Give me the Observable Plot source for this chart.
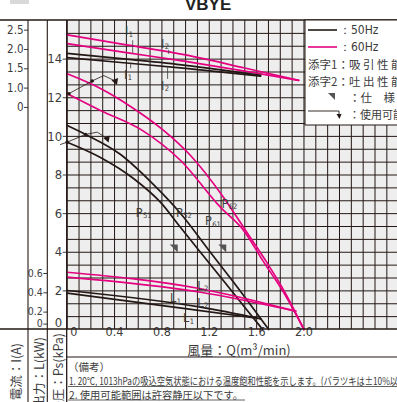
<!DOCTYPE html>
<html><head><meta charset="utf-8">
<script src="https://cdn.jsdelivr.net/npm/d3@7"></script>
<script src="https://cdn.jsdelivr.net/npm/@observablehq/plot@0.6"></script>
<style>
body{margin:0;background:#fff;}
#chart{position:relative;width:397px;height:402px;overflow:hidden;}
#tab{position:absolute;left:10px;top:0;width:19px;height:4px;background:#d9d9d9;}
</style></head><body><div id="chart"><div id="tab"></div></div>
<script>
const NARROW = "'Liberation Sans Narrow','Arial Narrow','DejaVu Sans Condensed',sans-serif";
const JP = "'Noto Sans CJK JP','Noto Sans',sans-serif";
const PINK = "#e4007f", BLACK = "#231815", INK = "#3c3c3c";

// ---- tick labels ----
const flowTicks = [0, 0.4, 0.8, 1.2, 1.6, 2.0];
const pressureTicks = [2, 4, 6, 8, 10, 12, 14];
const currentTicks = [1.0, 1.5, 2.0, 2.5];
const outputTicks = [0.2, 0.4, 0.6];

// ---- current I (A) ----
const i60aQ = [0, 0.5, 1.0, 1.5, 1.955];
const i60a  = [2.38, 2.12, 1.86, 1.52, 1.20];
const i60bQ = [0, 0.5, 1.0, 1.5, 1.955];
const i60b  = [2.15, 1.92, 1.69, 1.44, 1.20];
const i50aQ = [0, 0.5, 1.0, 1.634];
const i50a  = [1.90, 1.75, 1.59, 1.33];
const i50bQ = [0, 0.5, 1.0, 1.634];
const i50b  = [1.79, 1.65, 1.51, 1.31];

// ---- static pressure Ps (kPa) ----
const p62Q = [0, 0.281, 0.535, 0.814, 1.042, 1.321, 1.524, 1.676, 1.845, 2.0];
const p62  = [13.24, 12.48, 11.55, 10.31, 9.01, 6.84, 4.97, 3.57, 1.86, 0];
const p61Q = [0, 0.281, 0.634, 0.958, 1.296, 1.490, 1.659, 1.845, 2.0];
const p61  = [12.21, 11.34, 10.31, 8.75, 6.32, 5.13, 3.50, 1.75, 0];
const p52Q = [0, 0.155, 0.451, 0.704, 0.958, 1.211, 1.465, 1.702];
const p52  = [10.56, 10.10, 9.06, 7.66, 6.01, 3.99, 1.97, 0];
const p51Q = [0, 0.281, 0.56, 0.789, 0.958, 1.127, 1.339, 1.508, 1.651];
const p51  = [9.70, 8.91, 7.82, 6.58, 5.28, 3.99, 2.38, 1.09, 0];

// ---- output L (kW) ----
const l62Q = [0, 1.127, 1.93];
const l62  = [0.613, 0.442, 0.21];
const l61Q = [0, 1.127, 1.93];
const l61  = [0.562, 0.406, 0.21];
const l52Q = [0, 1.127, 1.634];
const l52  = [0.424, 0.251, 0.131];
const l51Q = [0, 1.014, 1.634];
const l51  = [0.396, 0.234, 0.131];

// spec points (Q, Ps)
const specQ = [0.90, 1.31];
const specP = [4.2, 4.2];

// usable range indicators (Q, Ps)
const range60Q = [0.014, 0.211, 0.309, 0.408];
const range60P = [12.21, 12.87, 13.15, 12.86];
const range50Q = [-0.057, 0, 0.155, 0.254, 0.338];
const range50P = [9.58, 9.70, 10.10, 10.22, 9.88];

// curve labels
const labelText = ["I","I","I","I","P","P","P","P","L","L","L","L"];
const labelSub  = ["1","2","1","2","51","52","61","62","2","1","2","1"];
const labelQ    = [0.527, 0.831, 0.518, 0.831, 0.65, 0.99, 1.235, 1.375, 1.15, 0.92, 1.15, 1.03];
const labelP    = [15.48, 14.81, 13.21, 12.64, 6.06, 6.06, 5.64, 6.53, 2.3, 1.65, 1.4, 0.6];
// leader lines for the current labels: [Q, Ps from, Ps to]
const leaderQ   = [0.553, 0.857, 0.536, 0.848];
const leaderP1  = [14.95, 14.45, 13.8, 13.55];
const leaderP2  = [14.3, 14.25, 13.5, 12.95];

// scale mappings of the secondary axes onto the pressure axis
const psFromI = I => 10.5 + 2 * I;
const psFromL = L => 5 * L - 0.1;

function rows(id, color, Q, V, f) {
  return Q.map((q, i) => ({id, color, Q: q, ps: f(V[i])}));
}
const ident = v => v;
const curves = [
  ...rows("i60a", PINK, i60aQ, i60a, psFromI),
  ...rows("i60b", PINK, i60bQ, i60b, psFromI),
  ...rows("i50a", BLACK, i50aQ, i50a, psFromI),
  ...rows("i50b", BLACK, i50bQ, i50b, psFromI),
  ...rows("p62", PINK, p62Q, p62, ident),
  ...rows("p61", PINK, p61Q, p61, ident),
  ...rows("p52", BLACK, p52Q, p52, ident),
  ...rows("p51", BLACK, p51Q, p51, ident),
  ...rows("l62", PINK, l62Q, l62, psFromL),
  ...rows("l61", PINK, l61Q, l61, psFromL),
  ...rows("l52", BLACK, l52Q, l52, psFromL),
  ...rows("l51", BLACK, l51Q, l51, psFromL)
];
const r60 = range60Q.map((q, i) => ({id: "r60", Q: q, ps: range60P[i]}));
const r50 = range50Q.map((q, i) => ({id: "r50", Q: q, ps: range50P[i]}));
const ranges = [...r60, ...r50];
const rangeDots = [r60[0], r60[1], r50[1], r50[2]];
const rangeEnds = [r60[r60.length - 1], r50[r50.length - 1]];
const specs = specQ.map((q, i) => ({Q: q, ps: specP[i]}));
const leaders = leaderQ.map((q, i) => ({Q: q, p1: leaderP1[i], p2: leaderP2[i]}));

const specSymbol = {draw(ctx, size) { const r = Math.sqrt(size) / 2; ctx.moveTo(-r, -r); ctx.lineTo(r, -r); ctx.lineTo(r, r); ctx.closePath(); }};

const xGrid = d3.range(0, 28).map(k => k / 10);
const yGrid = d3.range(1, 24).map(k => k * 2 / 3);

const plot = Plot.plot({
  width: 397, height: 402,
  marginLeft: 66.7, marginRight: 0, marginTop: 20, marginBottom: 73,
  x: {domain: [0, 2.79], axis: null},
  y: {domain: [0, 16], axis: null},
  style: {fontFamily: NARROW, background: "transparent", color: INK},
  marks: [
    Plot.frame({fill: "#eeeeee", stroke: null}),
    Plot.gridX(xGrid, {stroke: BLACK, strokeOpacity: 1, strokeWidth: 1}),
    Plot.gridY(yGrid, {stroke: BLACK, strokeOpacity: 1, strokeWidth: 1}),
    Plot.line(curves, {x: "Q", y: "ps", z: "id", stroke: "color", strokeWidth: 1.7, curve: "monotone-x"}),
    Plot.line(ranges, {x: "Q", y: "ps", z: "id", stroke: BLACK, strokeWidth: 0.8}),
    Plot.dot(rangeDots, {x: "Q", y: "ps", r: 1.8, fill: BLACK}),
    Plot.dot(rangeEnds, {x: "Q", y: "ps", symbol: "triangle", r: 2.6, fill: BLACK, rotate: 160}),
    Plot.dot(specs, {x: "Q", y: "ps", symbol: specSymbol, r: 4.5, fill: "#555"}),
    Plot.ruleX(leaders, {x: "Q", y1: "p1", y2: "p2", stroke: INK, strokeWidth: 0.8}),
    // pressure axis
    Plot.axisY(pressureTicks, {anchor: "left", tickSize: 4, tickPadding: 1, fontSize: 13, label: null, color: INK}),
    Plot.axisY([0.33], {anchor: "left", tickSize: 0, tickPadding: 5, fontSize: 13, label: null, tickFormat: () => "0", color: INK}),
    // current axis
    Plot.axisY(currentTicks.map(psFromI), {anchor: "left", dx: -38.7, tickSize: 4, tickPadding: 1, fontSize: 11.5, label: null, color: INK,
      tickFormat: d => ((d - 10.5) / 2).toFixed(1)}),
    Plot.axisY([psFromI(0.5)], {anchor: "left", dx: -38.7, tickSize: 4, tickPadding: 1, fontSize: 11.5, label: null, color: INK, tickFormat: () => "0"}),
    // output axis
    Plot.axisY(outputTicks.map(psFromL), {anchor: "left", dx: -19.4, tickSize: 4, tickPadding: 1, fontSize: 10.5, label: null, color: INK,
      tickFormat: d => ((d + 0.1) / 5).toFixed(1)}),
    Plot.axisY([0.28], {anchor: "left", dx: -19.4, tickSize: 4, tickPadding: 1, fontSize: 10.5, label: null, color: INK, tickFormat: () => "0"}),
    // flow axis
    Plot.text(flowTicks.filter(d => d > 0), {x: d => d, frameAnchor: "bottom", dy: 6.5, text: d => d.toFixed(1), fontSize: 12.5, fill: INK}),
    Plot.text([0], {x: d => d, frameAnchor: "bottom", dy: 6.5, text: () => "0", fontSize: 12.5, fill: INK, textAnchor: "start", dx: 3})
  ]
});
document.getElementById("chart").appendChild(plot);

// ---- decorations ----
const sx = plot.scale("x"), sy = plot.scale("y");
const svg = d3.select(plot);
const g = svg.append("g");
function ln(x1, y1, x2, y2, w = 1, c = BLACK) {
  g.append("line").attr("x1", x1).attr("y1", y1).attr("x2", x2).attr("y2", y2).attr("stroke", c).attr("stroke-width", w);
}
function tx(x, y, s, opts = {}) {
  const t = g.append("text").attr("x", x).attr("y", y).text(s)
    .attr("font-family", opts.font || JP).attr("font-size", opts.size || 12)
    .attr("fill", opts.fill || INK).attr("text-anchor", opts.anchor || "start")
    .attr("dominant-baseline", "central");
  if (opts.weight) t.attr("font-weight", opts.weight);
  if (opts.len) t.attr("textLength", opts.len).attr("lengthAdjust", "spacingAndGlyphs");
  if (opts.rotate) t.attr("transform", `rotate(-90 ${x} ${y})`);
  return t;
}
// curve labels with subscripts
labelText.forEach((t, i) => {
  const el = g.append("text").attr("x", sx.apply(labelQ[i])).attr("y", sy.apply(labelP[i]))
    .attr("font-family", NARROW).attr("font-size", 12.5).attr("fill", INK).attr("dominant-baseline", "central");
  el.append("tspan").text(t);
  el.append("tspan").attr("font-size", 7.5).attr("dx", 0.5).attr("dy", 3.5).text(labelSub[i]);
});

// frame lines
ln(0, 20, 397, 20, 1.3);
ln(0, 329, 397, 329, 1.3);
ln(66.7, 357, 397, 357, 1.1);
ln(28, 20, 28, 402, 1.1);
ln(47.3, 20, 47.3, 402, 1.1);
ln(66.7, 20, 66.7, 402, 1.3);

// title
tx(185, 4, "VBYE", {font: "'Liberation Sans',Arial,sans-serif", size: 17, weight: "bold", fill: "#222"});

// legend box
g.append("rect").attr("x", 305).attr("y", 20).attr("width", 95).attr("height", 105).attr("fill", "#fff").attr("stroke", BLACK).attr("stroke-width", 1);
ln(308, 30, 337, 30, 1.6, BLACK);
tx(339, 30, "：50Hz", {font: NARROW, size: 12});
ln(308, 47, 337, 47, 1.6, PINK);
tx(339, 47, "：60Hz", {font: NARROW, size: 12});
tx(308, 64, "添字1：吸 引 性 能", {size: 11.5});
tx(308, 81, "添字2：吐 出 性 能", {size: 11.5});
g.append("path").attr("d", "M328,93 L335,93 L335,100 Z").attr("fill", "#555");
tx(349, 97, "：仕　様", {size: 11.5});
g.append("path").attr("d", "M308,111 L339,111 L339,114").attr("fill", "none").attr("stroke", BLACK).attr("stroke-width", 0.9);
g.append("path").attr("d", "M336.5,114 L341.5,114 L339.5,119 Z").attr("fill", BLACK);
tx(349, 114, "：使用可能範囲", {size: 11});

// x axis title
tx(239, 349, "風量：Q(m³/min)", {size: 13, anchor: "middle"});

// notes
tx(68, 366, "（備考）", {size: 10.5});
tx(69, 380.5, "1. 20℃, 1013hPaの吸込空気状態における温度飽和性能を示します。(バラツキは±10%以内)", {size: 10.5, len: 340});
ln(68, 386.5, 397, 386.5, 0.8, INK);
tx(69, 394.5, "2. 使用可能範囲は許容静圧以下です。", {size: 10.5, len: 174});
ln(68, 400, 245, 400, 0.8, INK);

// rotated column labels
tx(15, 343, "電流：I(A)", {size: 12.5, anchor: "end", rotate: true});
tx(38, 337, "出力：L(kW)", {size: 12.5, anchor: "end", rotate: true});
tx(57, 333, "静圧：Ps(kPa)", {size: 12.5, anchor: "end", rotate: true});
</script></body></html>
